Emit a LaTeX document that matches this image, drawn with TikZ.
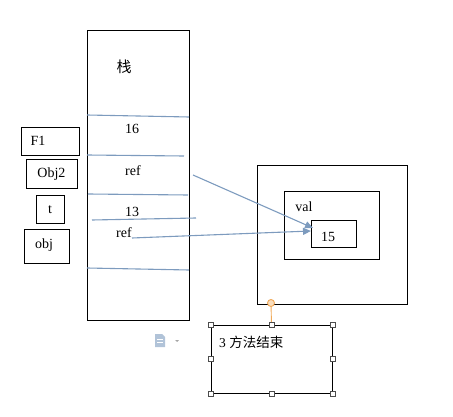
\documentclass[tikz,border=0pt]{standalone}
\usepackage{fontspec}
\setmainfont{Liberation Serif}
\newfontfamily\cjk{Noto Sans CJK SC}
\usetikzlibrary{arrows.meta}
\definecolor{lineblue}{RGB}{125,155,190}
\definecolor{handleorange}{RGB}{240,170,90}
\tikzset{
  box/.style={draw=black, line width=0.9pt},
  sep/.style={draw=lineblue, line width=1.1pt},
  ptr/.style={draw=lineblue, line width=1.1pt, -{Triangle[length=8pt,width=7pt]}},
  lbl/.style={font=\fontsize{14}{16}\selectfont, inner sep=0pt},
  handle/.style={draw=black!70, fill=white, line width=0.5pt, minimum size=5pt, inner sep=0pt},
}
\begin{document}
\begin{tikzpicture}[x=1pt,y=-1pt]
\useasboundingbox (0,0) rectangle (453,417);
% stack
\draw[box] (87,30) rectangle (189,320);
\coordinate (s1l) at (87,115); \coordinate (s1r) at (189,117);
\coordinate (s2l) at (87,155); \coordinate (s2r) at (184,156);
\coordinate (s3l) at (88,194); \coordinate (s3r) at (188,195);
\coordinate (s4l) at (92,220); \coordinate (s4r) at (196,218);
\coordinate (s5l) at (87,268); \coordinate (s5r) at (189,270);
\draw[sep] (s1l) -- (s1r);
\draw[sep] (s2l) -- (s2r);
\draw[sep] (s3l) -- (s3r);
\draw[sep] (s4l) -- (s4r);
\draw[sep] (s5l) -- (s5r);
\node[lbl, font=\fontsize{15}{17}\selectfont] (zhan) at (124,67) {\cjk 栈};
\node[lbl] (v16) at (132,129) {16};
\node[lbl] (ref1) at (133,171) {ref};
\node[lbl] (v13) at (132,212) {13};
\node[lbl] (ref2) at (124,233) {ref};
% left boxes
\node[box, minimum width=58pt, minimum height=28pt] (F1) at (50,141) {};
\node[lbl] at (38,141) {F1};
\node[box, minimum width=51pt, minimum height=29pt] (Obj2) at (51.5,173.5) {};
\node[lbl] at (51.5,174) {Obj2};
\node[box, minimum width=28pt, minimum height=28pt] (t) at (50,209) {};
\node[lbl] at (50,210) {t};
\node[box, minimum width=45pt, minimum height=34pt] (obj) at (46.5,246) {};
\node[lbl] at (44,245) {obj};
% heap
\node[box, minimum width=150pt, minimum height=139pt, inner sep=0pt] (outer) at (332,234.5) {};
\node[box, minimum width=95pt, minimum height=68pt, inner sep=0pt] (mid) at (331.5,225) {};
\node[box, minimum width=45pt, minimum height=27pt, inner sep=0pt] (inner) at (333.5,233.5) {};
\node[lbl] (val) at (304,207) {val};
\node[lbl] (v15) at (328,237) {15};
% pointers
\coordinate (p1s) at (193,175);
\coordinate (p1e) at (313,228);
\coordinate (p2s) at (132,238);
\coordinate (p2e) at (311,231);
\draw[ptr] (p1s) -- (p1e);
\draw[ptr] (p2s) -- (p2e);
% text box with handles
\node[box, minimum width=121pt, minimum height=68pt, inner sep=0pt] (tb) at (271.5,359) {};
\node[anchor=west, inner sep=0pt, font=\fontsize{13.5}{15}\selectfont] (tbt) at (219,342) {3 {\cjk 方法结束}};
\coordinate (rot) at (271,303);
\draw[handleorange, line width=0.9pt] (tb.north) -- (rot);
\draw[handleorange, fill=handleorange!40, line width=0.9pt] (rot) circle (3.5pt);
\foreach \a in {north west,north,north east,east,south east,south,south west,west}{
  \node[handle] at (tb.\a) {};
}
% paste icon
\begin{scope}[shift={(155,334)}]
\fill[lineblue!60] (0,0) -- (7,0) -- (10,3) -- (10,13) -- (0,13) -- cycle;
\fill[white] (2,5) rectangle (8,6);
\fill[white] (2,8) rectangle (8,9);
\fill[black!35] (20,6) -- (24,6) -- (22,8) -- cycle;
\end{scope}
\end{tikzpicture}
\end{document}
